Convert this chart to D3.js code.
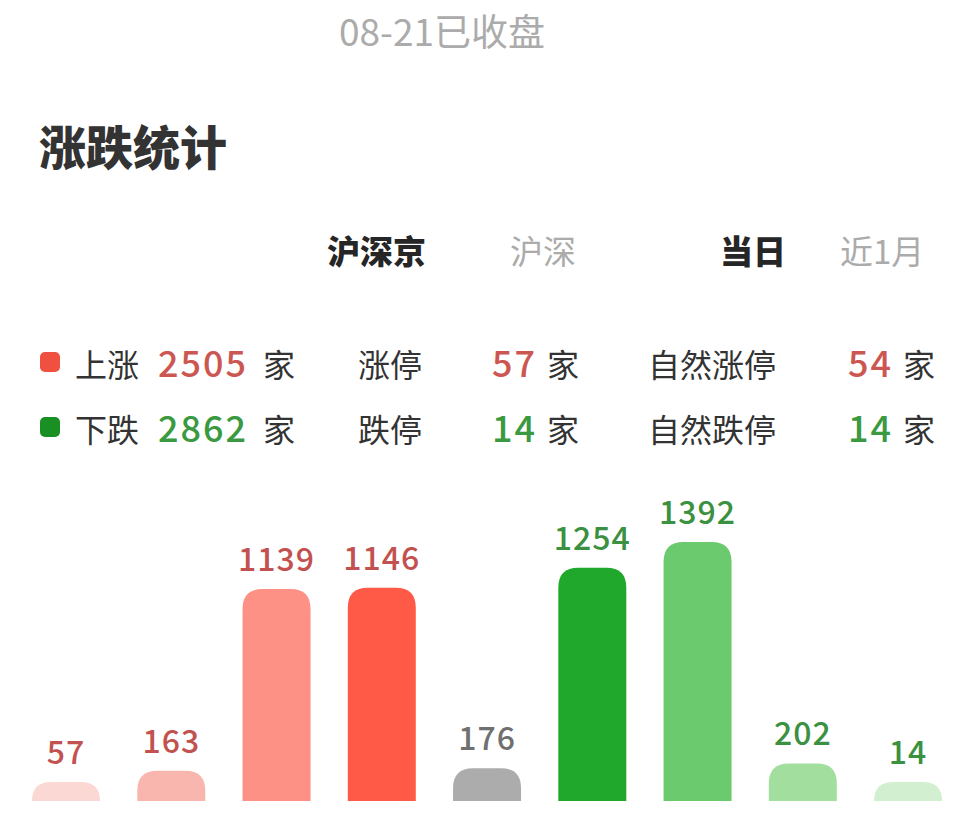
<!DOCTYPE html>
<html>
<head>
<meta charset="utf-8">
<script src="https://cdn.jsdelivr.net/npm/d3@7"></script>
<style>
  html, body { margin: 0; padding: 0; background: #ffffff; }
  svg { display: block; }
  text { font-family: "Noto Sans CJK SC", "Noto Sans", sans-serif; }
</style>
</head>
<body>
<svg id="chart" width="974" height="819"></svg>
<script>
// ---------- data ----------
const headerText = "08-21已收盘";
const titleText = "涨跌统计";
const marketTabs = ["沪深京", "沪深"];
const periodTabs = ["当日", "近1月"];

const statRowNames = ["上涨", "下跌"];
const statTotals = [2505, 2862];
const limitNames = ["涨停", "跌停"];
const limitValues = [57, 14];
const naturalNames = ["自然涨停", "自然跌停"];
const naturalValues = [54, 14];
const unitText = "家";

const categories = ["涨停", "5%以上", "2~5%", "0~2%", "平盘", "0~-2%", "-2~-5%", "-5%以下", "跌停"];
const values = [57, 163, 1139, 1146, 176, 1254, 1392, 202, 14];

// ---------- styles ----------
const barColors = ["#fbd8d4", "#f9b6ae", "#fd9186", "#fe5a47", "#acacac", "#1fa82b", "#6cca6e", "#a2df9f", "#d2f0d0"];
const labelColors = ["#c2524f", "#c2524f", "#c2524f", "#c2524f", "#707070", "#3a9140", "#3a9140", "#3a9140", "#3a9140"];
const upColor = "#cc5752", downColor = "#3b9a41";
const upMarker = "#f0503f", downMarker = "#1a8f24";

const svg = d3.select("#chart");

// header
svg.append("text").attr("x", 442).attr("y", 46).attr("text-anchor", "middle")
  .attr("font-size", 37).attr("fill", "#ababab").text(headerText);

// title
svg.append("text").attr("x", 39).attr("y", 165)
  .attr("font-size", 47).attr("font-weight", 900).attr("fill", "#333333").text(titleText);

// tabs
const tabX = [327, 510, 720, 840];
const tabs = [marketTabs[0], marketTabs[1], periodTabs[0], periodTabs[1]];
svg.selectAll("text.tab").data(tabs).join("text").attr("class", "tab")
  .attr("x", (d, i) => tabX[i]).attr("y", 264)
  .attr("font-size", 33)
  .attr("font-weight", (d, i) => i % 2 === 0 ? 900 : 400)
  .attr("fill", (d, i) => i % 2 === 0 ? "#262626" : "#ababab")
  .text(d => d);

// stats rows
const rowBase = [377, 442];
const rowColors = [upColor, downColor];
const markerColors = [upMarker, downMarker];
statRowNames.forEach((name, r) => {
  const yb = rowBase[r];
  svg.append("rect").attr("x", 40).attr("y", yb - 25).attr("width", 20).attr("height", 20)
    .attr("rx", 5).attr("fill", markerColors[r]);
  const cols = [
    { lx: 75, label: name, nx: 158, num: statTotals[r], ux: 263 },
    { lx: 358, label: limitNames[r], nx: 492, num: limitValues[r], ux: 547 },
    { lx: 648, label: naturalNames[r], nx: 848, num: naturalValues[r], ux: 903 }
  ];
  cols.forEach(c => {
    svg.append("text").attr("x", c.lx).attr("y", yb).attr("font-size", 32)
      .attr("fill", "#333333").text(c.label);
    svg.append("text").attr("x", c.nx).attr("y", yb).attr("font-size", 36)
      .attr("font-weight", 500).attr("letter-spacing", 2).attr("fill", rowColors[r]).text(c.num);
    svg.append("text").attr("x", c.ux).attr("y", yb).attr("font-size", 32)
      .attr("fill", "#333333").text(unitText);
  });
});

// ---------- bar chart ----------
const baseY = 801;
const x = d3.scaleBand().domain(categories).range([13.4, 960.7])
  .paddingInner(0.354).paddingOuter(0.177);
const y = d3.scaleLinear().domain([0, d3.max(values)]).range([baseY, baseY - 259]);
const minH = 19, maxR = 20;

function barPath(d) {
  const x0 = x(d.cat), w = x.bandwidth();
  const h = Math.max(baseY - y(d.v), minH);
  const top = baseY - h;
  const r = Math.min(maxR, h, w / 2);
  return `M${x0},${baseY} L${x0},${top + r} Q${x0},${top} ${x0 + r},${top} ` +
         `L${x0 + w - r},${top} Q${x0 + w},${top} ${x0 + w},${top + r} L${x0 + w},${baseY} Z`;
}

const data = categories.map((c, i) => ({ cat: c, v: values[i], i }));

svg.append("g").selectAll("path").data(data).join("path")
  .attr("d", barPath)
  .attr("fill", d => barColors[d.i]);

svg.append("g").selectAll("text").data(data).join("text")
  .attr("x", d => x(d.cat) + x.bandwidth() / 2)
  .attr("y", d => baseY - Math.max(baseY - y(d.v), minH) - 18)
  .attr("text-anchor", "middle")
  .attr("font-size", 32).attr("font-weight", 500)
  .attr("letter-spacing", 1)
  .attr("fill", d => labelColors[d.i])
  .text(d => d.v);
</script>
</body>
</html>
